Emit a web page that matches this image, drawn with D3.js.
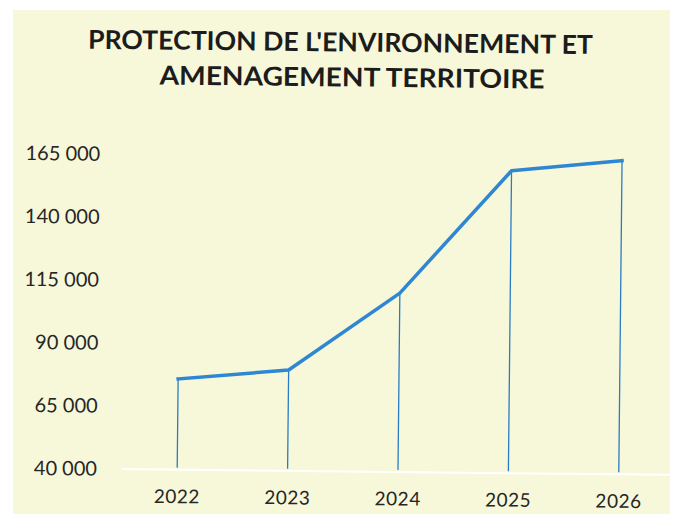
<!DOCTYPE html>
<html>
<head>
<meta charset="utf-8">
<script src="https://cdn.jsdelivr.net/npm/d3@7"></script>
<style>
  body { margin: 0; background: #ffffff; }
  svg { display: block; }
</style>
</head>
<body>
<svg id="myGraph" width="681" height="514"></svg>
<script>
// données du graphique
var years = ["2022", "2023", "2024", "2025", "2026"];
var values = [76000, 80000, 111000, 160000, 164500];
var yTicks = [40000, 65000, 90000, 115000, 140000, 165000];
var titleLines = ["PROTECTION DE L'ENVIRONNEMENT ET", "AMENAGEMENT TERRITOIRE"];

const W = 681, H = 514;
const LEFT = 122, RIGHT = 674;
const TOP = 157, BOTTOM = 472;
const LINE_COLOR = "#2f86d1";
const TEXT_COLOR = "#262626";

var svg = d3.select("#myGraph");

// fond jaune (scan)
svg.append("rect")
  .attr("x", 13).attr("y", 10)
  .attr("width", 657).attr("height", H - 10)
  .attr("fill", "#f7f8da");

// le scan est légèrement tourné
var g = svg.append("g")
  .attr("transform", "rotate(0.6, 400, 470)");

var frLocale = d3.formatLocale({decimal: ",", thousands: " ", grouping: [3], currency: ["", " €"]});
var fmt = frLocale.format(",");

var xscale = d3.scaleBand()
  .domain(years)
  .range([LEFT, RIGHT])
  .padding(0);

var yscale = d3.scaleLinear()
  .domain([40000, 165000])
  .range([BOTTOM, TOP]);

function cx(d) { return xscale(d) + xscale.bandwidth() / 2; }

// titre
g.selectAll(".title")
  .data(titleLines)
  .enter()
  .append("text")
  .attr("class", "title")
  .attr("x", function(d, i){ return i == 0 ? 336 : 348; })
  .attr("y", function(d, i){ return 52 + i * 35; })
  .attr("text-anchor", "middle")
  .attr("textLength", function(d, i){ return i == 0 ? 505 : 385; })
  .attr("lengthAdjust", "spacingAndGlyphs")
  .style("font-family", "Lato, 'Open Sans', sans-serif")
  .style("font-weight", "bold")
  .style("font-size", "26px")
  .style("fill", "#1c1c1c")
  .text(function(d){ return d; });

// ligne de base (blanche)
g.append("line")
  .attr("x1", LEFT).attr("x2", RIGHT - 4)
  .attr("y1", yscale(40000)).attr("y2", yscale(40000))
  .attr("stroke", "#ffffff")
  .attr("stroke-width", 2);

// axe Y
var axisY = g.append("g")
  .attr("class", "axisY")
  .attr("transform", "translate(" + LEFT + ",0)")
  .call(d3.axisLeft(yscale).tickValues(yTicks).tickFormat(fmt).tickSize(0).tickPadding(25));
axisY.select(".domain").remove();
axisY.selectAll("text")
  .style("font-family", "Lato, 'Open Sans', sans-serif")
  .style("font-size", "20px")
  .style("fill", TEXT_COLOR);

// axe X
var axisX = g.append("g")
  .attr("class", "axisX")
  .attr("transform", "translate(0," + BOTTOM + ")")
  .call(d3.axisBottom(xscale).tickSize(0).tickPadding(20));
axisX.select(".domain").remove();
axisX.selectAll("text")
  .style("font-family", "Lato, 'Open Sans', sans-serif")
  .style("font-size", "19px")
  .style("letter-spacing", "0.5px")
  .style("fill", TEXT_COLOR);

// lignes de projection
g.selectAll(".drop")
  .data(values)
  .enter()
  .append("line")
  .attr("class", "drop")
  .attr("x1", function(d, i){ return cx(years[i]); })
  .attr("x2", function(d, i){ return cx(years[i]); })
  .attr("y1", function(d){ return yscale(d); })
  .attr("y2", yscale(40000) - 2)
  .attr("stroke", "#2b7bc4")
  .attr("stroke-width", 1.3);

// courbe
var line = d3.line()
  .x(function(d, i){ return cx(years[i]); })
  .y(function(d){ return yscale(d); });

g.append("path")
  .datum(values)
  .attr("d", line)
  .attr("fill", "none")
  .attr("stroke", LINE_COLOR)
  .attr("stroke-width", 3.5)
  .attr("stroke-linejoin", "round")
  .attr("stroke-linecap", "square");
</script>
</body>
</html>
